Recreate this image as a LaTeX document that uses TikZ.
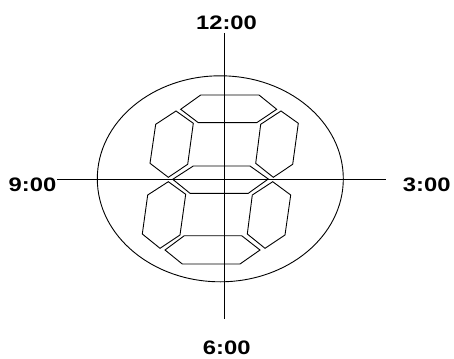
\documentclass[tikz,border=0pt]{standalone}
\usepackage{fontspec}
\setmainfont{Liberation Sans}
\begin{document}
\begin{tikzpicture}[x=1pt,y=-1pt,
  lbl/.style={inner sep=0pt,font=\bfseries\fontsize{19.5}{20}\selectfont},
  axis/.style={line width=0.9pt,black},
  seg/.style={line width=0.9pt,black,line join=miter}]
\useasboundingbox (0,0) rectangle (454,358);
\node[lbl] (t12) at (226.5,23) {\scalebox{1.22}[1]{12:00}};
\node[lbl] (t6) at (226.7,347.5) {\scalebox{1.22}[1]{6:00}};
\node[lbl] (t9) at (32.5,185) {\scalebox{1.22}[1]{9:00}};
\node[lbl] (t3) at (426.7,185) {\scalebox{1.22}[1]{3:00}};
\coordinate (vtop) at (224,33);
\coordinate (vbot) at (224,319);
\coordinate (hl) at (57,179.3);
\coordinate (hr) at (386,179.3);
\draw[axis] (vtop) -- (vbot);
\draw[axis] (hl) -- (hr);
\draw[axis] (220.3,178.8) ellipse [x radius=123, y radius=103];
% top
\draw[seg] (200.7,95) -- (259,95) -- (276.7,109.3) -- (256.7,122.7) -- (198.3,122.7) -- (180.7,109.3) -- cycle;
% upper left
\draw[seg] (176,111) -- (193.3,123.3) -- (187.7,164.3) -- (168.3,177.3) -- (150,163.3) -- (155.7,124.3) -- cycle;
% upper right
\draw[seg] (281,111) -- (298.3,123.3) -- (292.7,164.3) -- (273.3,177.3) -- (255.7,163.3) -- (260.7,124.3) -- cycle;
% middle
\draw[seg] (193.3,166) -- (250,166) -- (268.3,179) -- (248.3,193.3) -- (190,193.3) -- (172.7,179.3) -- cycle;
% lower left
\draw[seg] (168.3,181.7) -- (185.7,194.3) -- (180,235) -- (160,248.3) -- (142.3,234) -- (147.7,195) -- cycle;
% lower right
\draw[seg] (272.7,181.7) -- (290.7,195) -- (285,235) -- (265,248.3) -- (247.3,234) -- (252.3,195) -- cycle;
% bottom
\draw[seg] (184.3,235.7) -- (241.7,235.7) -- (260,250) -- (240,264) -- (182.3,264) -- (165,250) -- cycle;
\end{tikzpicture}
\end{document}
